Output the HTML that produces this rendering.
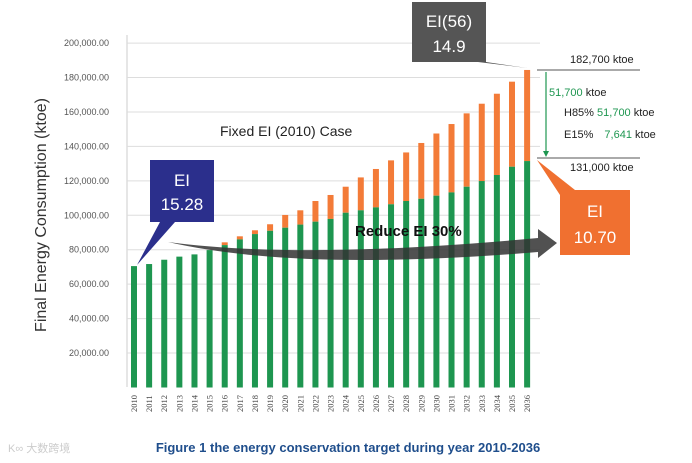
<!DOCTYPE html>
<html><head><meta charset="utf-8"><style>
body{margin:0;background:#fff;width:692px;height:463px;overflow:hidden}
svg{display:block}
</style></head><body>
<svg id="c" width="692" height="463" viewBox="0 0 692 463" xmlns="http://www.w3.org/2000/svg" font-family="Liberation Sans, sans-serif">
<g id="grid"></g>
<g id="bars"></g>
<g id="xl"></g>
<text transform="translate(46,215) rotate(-90)" text-anchor="middle" font-size="16" fill="#333">Final Energy Consumption (ktoe)</text>
<text x="220" y="136" font-size="14" fill="#222">Fixed EI (2010) Case</text>
<path d="M168,242 Q300,260 538,238 L538,229 L557,243 L538,258 L538,252 Q300,272 168,242 Z" fill="#333" opacity="0.85"/>
<text x="355" y="236" font-size="15" font-weight="bold" fill="#111">Reduce EI 30%</text>
<g>
<path d="M150,160 H214 V222 H175 L137,265 L160,222 H150 Z" fill="#2b2f8c"/>
<text x="182" y="186" text-anchor="middle" font-size="17" fill="#fff">EI</text>
<text x="182" y="210" text-anchor="middle" font-size="17" fill="#fff">15.28</text>
</g>
<g>
<path d="M412,2 H486 V62 H486 L527,68 L478,62 H412 Z" fill="#555"/>
<text x="449" y="27" text-anchor="middle" font-size="17" fill="#fff">EI(56)</text>
<text x="449" y="52" text-anchor="middle" font-size="17" fill="#fff">14.9</text>
</g>
<g>
<path d="M560,190 H630 V255 H560 V195 L537,160 L575,190 Z" fill="#f07030"/>
<text x="595" y="217" text-anchor="middle" font-size="17" fill="#fff">EI</text>
<text x="595" y="243" text-anchor="middle" font-size="17" fill="#fff">10.70</text>
</g>
<g font-size="11" fill="#222">
<line x1="537" y1="70" x2="640" y2="70" stroke="#555"/>
<line x1="537" y1="158" x2="640" y2="158" stroke="#555"/>
<line x1="546" y1="72" x2="546" y2="154" stroke="#1e9650" stroke-width="1.2"/>
<path d="M543,151 L546,157 L549,151 Z" fill="#1e9650"/>
<text x="570" y="63">182,700 ktoe</text>
<text x="549" y="96"><tspan fill="#1e9650">51,700</tspan> ktoe</text>
<text x="564" y="116">H85% <tspan fill="#1e9650">51,700</tspan> ktoe</text>
<text x="564" y="138">E15% <tspan fill="#1e9650" dx="8">7,641</tspan> ktoe</text>
<text x="570" y="171">131,000 ktoe</text>
</g>
<text x="348" y="452" text-anchor="middle" font-size="13" font-weight="bold" fill="#1f4e8c">Figure 1 the energy conservation target during year 2010-2036</text>
<text x="8" y="452" font-size="11" fill="#ccc" font-family="Liberation Sans, Noto Sans CJK SC, sans-serif">K∞ 大数跨境</text>
</svg>
<script>
const years=[2010,2011,2012,2013,2014,2015,2016,2017,2018,2019,2020,2021,2022,2023,2024,2025,2026,2027,2028,2029,2030,2031,2032,2033,2034,2035,2036];
const target=[70500,71700,74200,76000,77300,79800,82700,86000,89100,91000,92800,94600,96300,97900,101500,102900,104600,106400,108300,109600,111400,113300,116600,119900,123400,128200,131500];
const fixedCase=[70500,71700,74200,76000,77300,79800,84300,87800,91300,94800,100200,102900,108300,111800,116600,122000,126900,131900,136500,142000,147500,153000,159200,164800,170600,177600,184400];
const yTicks=[20000,40000,60000,80000,100000,120000,140000,160000,180000,200000];
const NS='http://www.w3.org/2000/svg';
const y=v=>387.5-v/20000*34.44;
const x=i=>134+i*15.12;
function mk(t,a,p){const e=document.createElementNS(NS,t);for(const k in a)e.setAttribute(k,a[k]);p.appendChild(e);return e;}
const g=document.getElementById('grid'),b=document.getElementById('bars'),xl=document.getElementById('xl');
mk('line',{x1:127,y1:35,x2:127,y2:387,stroke:'#ccc'},g);
yTicks.forEach(v=>{
 const l=mk('line',{x1:127,x2:540,y1:y(v),y2:y(v),stroke:'#ddd'},g);
 
 
 const t=mk('text',{x:109,y:y(v)+3,'text-anchor':'end','font-size':9,fill:'#555'},g);
 t.textContent=v.toLocaleString('en-US',{minimumFractionDigits:2});
 
 
});
years.forEach((yr,i)=>{
 if(fixedCase[i]>target[i]){
  const o=mk('rect',{x:x(i)-3,width:6,y:y(fixedCase[i]),height:y(target[i])-y(fixedCase[i]),fill:'#f37b38'},b);
  
  
 }
 const r=mk('rect',{x:x(i)-3,width:6,y:y(target[i]),height:y(0)-y(target[i]),fill:'#1e9650'},b);
 
 
 const t=mk('text',{transform:`translate(${x(i)+3},412) rotate(-90)`,'font-size':8.5,fill:'#444','font-family':'Liberation Serif, serif'},xl);
 t.textContent=yr;
 
 
});
</script>
</body></html>
